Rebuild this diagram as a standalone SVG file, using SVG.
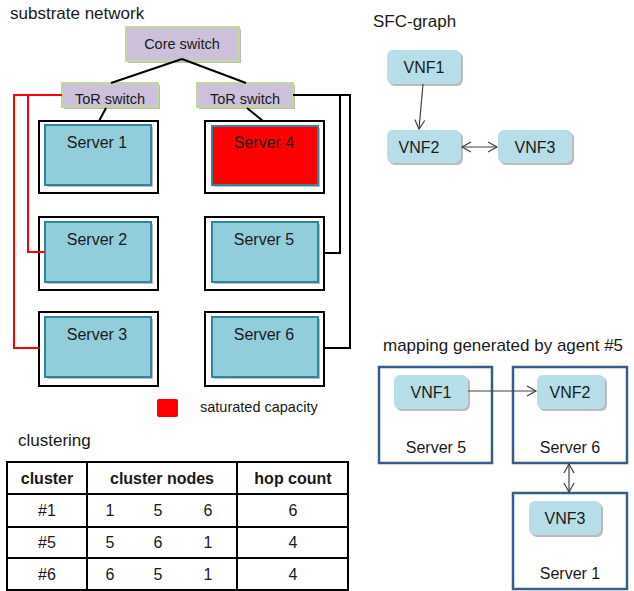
<svg xmlns="http://www.w3.org/2000/svg" width="634" height="591" viewBox="0 0 634 591">
<defs>
<style>
text{font-family:"Liberation Sans",Arial,sans-serif;fill:#1a1a1a}
.title{font-size:17px}
.sw{fill:#ccc0da;stroke:#c3d69b;stroke-width:2}
.swt{font-size:14.5px;text-anchor:middle}
.frame{fill:#fff;stroke:#000;stroke-width:2}
.srv{fill:#92cddc;stroke:#31859c;stroke-width:2}
.sat{fill:#ff0000;stroke:#31859c;stroke-width:2}
.shadow{fill:#bbb;stroke:none}
.st{font-size:16px;text-anchor:middle}
.vnf{fill:#b7dee8;stroke:none}
.vt{font-size:16px;text-anchor:middle}
.map{fill:#fff;stroke:#385d8a;stroke-width:2.5}
.tab{fill:none;stroke:#000;stroke-width:2}
.th{font-size:16px;font-weight:bold;text-anchor:middle}
.td{font-size:16px;text-anchor:middle}
.blk{fill:none;stroke:#000;stroke-width:2}
.red{fill:none;stroke:#ff0000;stroke-width:2}
.arr{fill:none;stroke:#404040;stroke-width:1.2}
</style>
<marker id="ah" markerWidth="12" markerHeight="12" refX="10" refY="6" orient="auto-start-reverse" markerUnits="userSpaceOnUse">
<path d="M1,1 L10,6 L1,11" fill="none" stroke="#404040" stroke-width="1.2"/>
</marker>
</defs>

<text class="title" x="10" y="19">substrate network</text>
<text class="title" x="373" y="27">SFC-graph</text>
<text class="title" x="383" y="351">mapping generated by agent #5</text>
<text class="title" x="18" y="446">clustering</text>

<g id="core-switch">
<rect class="shadow" x="128" y="29" width="113" height="34"/>
<rect class="sw" x="126" y="27" width="113" height="34"/>
<text class="swt" x="182" y="49">Core switch</text>
</g>
<g id="tor-left">
<rect class="shadow" x="64" y="85" width="96" height="24"/>
<rect class="sw" x="62" y="83" width="96" height="24"/>
<text class="swt" x="110" y="104">ToR switch</text>
</g>
<g id="tor-right">
<rect class="shadow" x="199" y="85" width="96" height="24"/>
<rect class="sw" x="197" y="83" width="96" height="24"/>
<text class="swt" x="245" y="104">ToR switch</text>
</g>

<g id="server1">
<rect class="frame" x="39" y="121" width="119" height="72"/>
<rect class="shadow" x="47" y="127" width="106" height="60"/>
<rect class="srv" x="45" y="125" width="106" height="60"/>
<text class="st" x="97" y="148">Server 1</text>
</g>
<g id="server2">
<rect class="frame" x="39" y="217" width="119" height="73"/>
<rect class="shadow" x="47" y="224" width="106" height="60"/>
<rect class="srv" x="45" y="222" width="106" height="60"/>
<text class="st" x="97" y="245">Server 2</text>
</g>
<g id="server3">
<rect class="frame" x="39" y="312" width="119" height="74"/>
<rect class="shadow" x="47" y="319" width="106" height="60"/>
<rect class="srv" x="45" y="317" width="106" height="60"/>
<text class="st" x="97" y="340">Server 3</text>
</g>
<g id="server4">
<rect class="frame" x="205" y="121" width="119" height="72"/>
<rect class="shadow" x="214" y="128" width="106" height="59"/>
<rect class="sat" x="212" y="126" width="106" height="59"/>
<text class="st" x="264" y="148">Server 4</text>
</g>
<g id="server5">
<rect class="frame" x="205" y="217" width="119" height="73"/>
<rect class="shadow" x="214" y="224" width="106" height="60"/>
<rect class="srv" x="212" y="222" width="106" height="60"/>
<text class="st" x="264" y="245">Server 5</text>
</g>
<g id="server6">
<rect class="frame" x="205" y="312" width="119" height="74"/>
<rect class="shadow" x="214" y="319" width="106" height="60"/>
<rect class="srv" x="212" y="317" width="106" height="60"/>
<text class="st" x="264" y="340">Server 6</text>
</g>

<g id="legend">
<rect x="157" y="399" width="21" height="18" fill="#ff0000" rx="2"/>
<text x="200" y="412" style="font-size:14.5px">saturated capacity</text>
</g>

<g id="sfc-vnf1">
<rect class="shadow" x="389" y="52" width="74" height="34" rx="6"/>
<rect class="vnf" x="387" y="50" width="74" height="34" rx="6"/>
<text class="vt" x="424" y="73">VNF1</text>
</g>
<g id="sfc-vnf2">
<rect class="shadow" x="389" y="132" width="74" height="33" rx="6"/>
<rect class="vnf" x="387" y="130" width="74" height="33" rx="6"/>
<text class="vt" x="419" y="153">VNF2</text>
</g>
<g id="sfc-vnf3">
<rect class="shadow" x="500" y="132" width="74" height="33" rx="6"/>
<rect class="vnf" x="498" y="130" width="74" height="33" rx="6"/>
<text class="vt" x="535" y="153">VNF3</text>
</g>

<g id="map-server5">
<rect class="map" x="379" y="367" width="113" height="96"/>
<text class="st" x="436" y="453">Server 5</text>
</g>
<g id="map-server6">
<rect class="map" x="513" y="367" width="114" height="96"/>
<text class="st" x="570" y="453">Server 6</text>
</g>
<g id="map-server1">
<rect class="map" x="513" y="493" width="114" height="96"/>
<text class="st" x="570" y="579">Server 1</text>
</g>
<g id="map-vnf1">
<rect class="shadow" x="396" y="377" width="74" height="34" rx="6"/>
<rect class="vnf" x="394" y="375" width="74" height="34" rx="6"/>
<text class="vt" x="431" y="398">VNF1</text>
</g>
<g id="map-vnf2">
<rect class="shadow" x="539" y="377" width="68" height="34" rx="6"/>
<rect class="vnf" x="537" y="375" width="68" height="34" rx="6"/>
<text class="vt" x="570" y="398">VNF2</text>
</g>
<g id="map-vnf3">
<rect class="shadow" x="531" y="503" width="72" height="34" rx="6"/>
<rect class="vnf" x="529" y="501" width="72" height="34" rx="6"/>
<text class="vt" x="565" y="524">VNF3</text>
</g>

<g id="table">
<rect class="tab" x="7" y="462" width="341" height="128"/>
<line class="tab" x1="7" y1="494" x2="348" y2="494"/>
<line class="tab" x1="7" y1="527" x2="348" y2="527"/>
<line class="tab" x1="7" y1="558" x2="348" y2="558"/>
<line class="tab" x1="87" y1="462" x2="87" y2="590"/>
<line class="tab" x1="237" y1="462" x2="237" y2="590"/>
<text class="th" x="47" y="484">cluster</text>
<text class="th" x="162" y="484">cluster nodes</text>
<text class="th" x="293" y="484">hop count</text>
<text class="td" x="47" y="516">#1</text>
<text class="td" x="110" y="516">1</text>
<text class="td" x="158" y="516">5</text>
<text class="td" x="208" y="516">6</text>
<text class="td" x="293" y="516">6</text>
<text class="td" x="47" y="548">#5</text>
<text class="td" x="110" y="548">5</text>
<text class="td" x="158" y="548">6</text>
<text class="td" x="208" y="548">1</text>
<text class="td" x="293" y="548">4</text>
<text class="td" x="47" y="580">#6</text>
<text class="td" x="110" y="580">6</text>
<text class="td" x="158" y="580">5</text>
<text class="td" x="208" y="580">1</text>
<text class="td" x="293" y="580">4</text>
</g>

<g id="connectors">
<line class="blk" x1="182" y1="59" x2="111" y2="83"/>
<line class="blk" x1="182" y1="59" x2="246" y2="83"/>
<line class="blk" x1="106" y1="108" x2="99" y2="121"/>
<line class="blk" x1="247" y1="108" x2="263" y2="121"/>
<polyline class="red" points="62,95 14,95 14,348 39,348"/>
<polyline class="red" points="28,95 28,252 45,252"/>
<polyline class="blk" points="293,95 350,95 350,348 324,348"/>
<polyline class="blk" points="340,95 340,253 324,253"/>
<line class="arr" x1="423" y1="84" x2="419" y2="129" marker-end="url(#ah)"/>
<line class="arr" x1="462" y1="147" x2="497" y2="147" marker-start="url(#ah)" marker-end="url(#ah)"/>
<line class="arr" x1="468" y1="391" x2="536" y2="391" marker-end="url(#ah)"/>
<line class="arr" x1="569" y1="464" x2="569" y2="492" marker-start="url(#ah)" marker-end="url(#ah)"/>
</g>
</svg>
